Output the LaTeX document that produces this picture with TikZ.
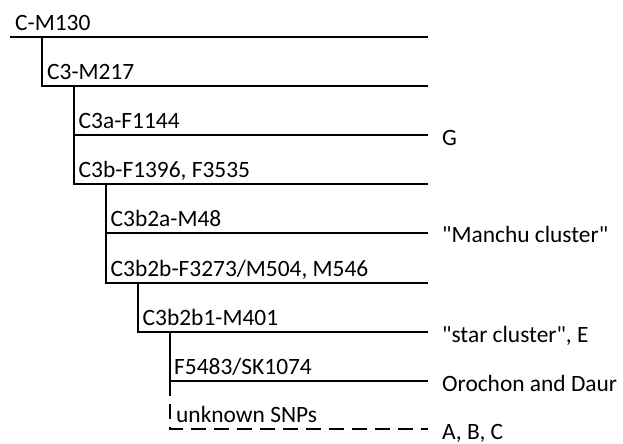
\documentclass[tikz,border=0pt]{standalone}
\usepackage{fontspec}
\setmainfont{Carlito}[Ligatures=TeXOff]

\begin{document}
\begin{tikzpicture}[x=1bp, y=-1bp,
    branch/.style={line width=2.8bp, line join=miter},
    unknown/.style={branch, dash pattern=on 15bp off 8bp},
    snp/.style={anchor=base west, inner sep=0pt, font=\fontsize{23.5}{28}\selectfont},
    pop/.style={anchor=base west, inner sep=0pt, font=\fontsize{23.5}{28}\selectfont}]
      \useasboundingbox (0,0) rectangle (623,444);

      % branch points
      \coordinate (M130) at (10,37);
      \coordinate (M217) at (42,86);
      \coordinate (F1144) at (74,135);
      \coordinate (F1396) at (74,184);
      \coordinate (M48) at (106,233);
      \coordinate (M504) at (106,283);
      \coordinate (M401) at (138,332);
      \coordinate (F5483) at (170,381);
      \coordinate (SNP) at (170,429);
      \coordinate (tip) at (428,0);

      % tree
      \draw[branch] (M130) -- (M130 -| tip);
      \draw[branch] (M130 -| M217) |- (M217 -| tip);
      \draw[branch] (M217 -| F1396) |- (F1396 -| tip);
      \draw[branch] (F1144) -- (F1144 -| tip);
      \draw[branch] (F1396 -| M504) |- (M504 -| tip);
      \draw[branch] (M48) -- (M48 -| tip);
      \draw[branch] (M504 -| M401) |- (M401 -| tip);
      \draw[branch] (M401 -| F5483) |- (F5483 -| tip);
      \draw[unknown] (F5483) |- (SNP -| tip);

      % markers
      \node[snp] (lM130) at (15,30.5) {C-M130};
      \node[snp] (lM217) at (47,79.5) {C3-M217};
      \node[snp] (lF1144) at (78.5,128.5) {C3a-F1144};
      \node[snp] (lF1396) at (78.5,177.5) {C3b-F1396, F3535};
      \node[snp] (lM48) at (110.5,226.5) {C3b2a-M48};
      \node[snp] (lM504) at (110.5,276.5) {C3b2b-F3273/M504, M546};
      \node[snp] (lM401) at (142.5,325.5) {C3b2b1-M401};
      \node[snp] (lF5483) at (174,374.5) {F5483/SK1074};
      \node[snp] (lSNP) at (176,422.5) {unknown SNPs};

      % populations
      \node[pop] (pG) at (442,145.5) {G};
      \node[pop] (pManchu) at (442,242.5) {"Manchu cluster"};
      \node[pop] (pStar) at (442,342.5) {"star cluster", E};
      \node[pop] (pOrochon) at (442,391.5) {Orochon and Daur};
      \node[pop] (pABC) at (442,439.5) {A, B, C};

    \end{tikzpicture}
\end{document}
